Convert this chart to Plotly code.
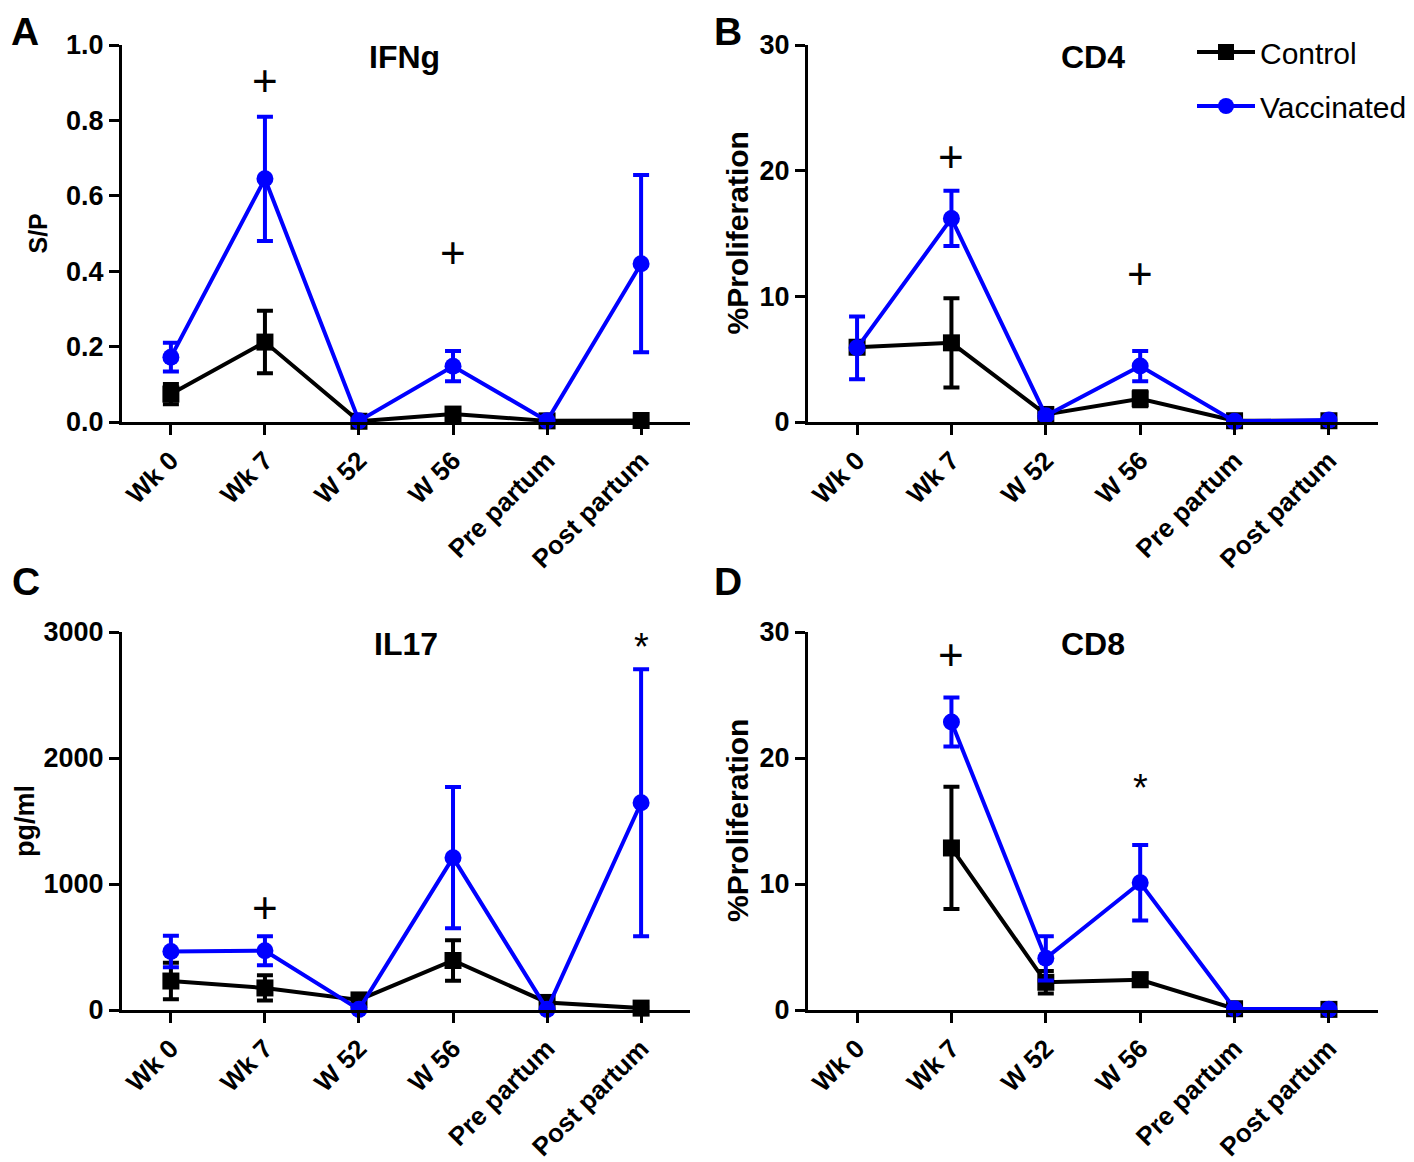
import plotly.graph_objects as go

W, H = 1414, 1162
OX, OY = 8, 8  # page body margin offset

categories = ["Wk 0", "Wk 7", "W 52", "W 56", "Pre partum", "Post partum"]

# Panel A: IFNg (S/P)
ifng_ctrl = [0.074, 0.212, 0.002, 0.021, 0.003, 0.004]
ifng_ctrl_err = [0.027, 0.083, 0.0, 0.005, 0.0, 0.0]
ifng_vacc = [0.172, 0.645, 0.003, 0.148, 0.003, 0.42]
ifng_vacc_err = [0.038, 0.165, 0.0, 0.04, 0.0, 0.235]

# Panel B: CD4 (%Proliferation)
cd4_ctrl = [5.95, 6.3, 0.6, 1.85, 0.1, 0.1]
cd4_ctrl_err = [0.4, 3.55, 0.2, 0.6, 0.05, 0.05]
cd4_vacc = [5.9, 16.2, 0.5, 4.45, 0.05, 0.15]
cd4_vacc_err = [2.5, 2.2, 0.2, 1.2, 0.05, 0.05]

# Panel C: IL17 (pg/ml)
il17_ctrl = [230, 175, 80, 393, 60, 15]
il17_ctrl_err = [145, 100, 20, 160, 10, 5]
il17_vacc = [465, 470, 5, 1209, 5, 1645]
il17_vacc_err = [125, 115, 0, 560, 0, 1060]

# Panel D: CD8 (%Proliferation)
cd8_ctrl = [None, 12.86, 2.2, 2.4, 0.1, 0.05]
cd8_ctrl_err = [0, 4.85, 0.9, 0.5, 0.05, 0.0]
cd8_vacc = [None, 22.86, 4.1, 10.1, 0.1, 0.05]
cd8_vacc_err = [0, 1.95, 1.75, 3.0, 0.05, 0.0]

# significance marks: (x index, y value, symbol)
marks_A = [(1, 0.905, "+"), (3, 0.45, "+")]
marks_B = [(1, 21.1, "+"), (3, 11.85, "+")]
marks_C = [(1, 817, "+"), (5, 2880, "*")]
marks_D = [(1, 28.2, "+"), (3, 17.6, "*")]

BLACK = "#000000"
BLUE = "#0000ff"
FONT = "Liberation Sans"


def px(x):
    return (x - OX) / W


def py(y):
    return 1 - (y - OY) / H


fig = go.Figure()

panels = [
    dict(ctrl=ifng_ctrl, ce=ifng_ctrl_err, vacc=ifng_vacc, ve=ifng_vacc_err,
         xs=(122, 690), ys=(45, 422), yr=[0, 1.0], dt=0.2, fmt=".1f",
         title="IFNg", tx=405, ytitle="S/P", ytx=37, yts=25,
         letter="A", lx=25, ly=8, lanchor="top", marks=marks_A),
    dict(ctrl=cd4_ctrl, ce=cd4_ctrl_err, vacc=cd4_vacc, ve=cd4_vacc_err,
         xs=(808, 1378), ys=(45, 422), yr=[0, 30], dt=10, fmt="d",
         title="CD4", tx=1093, ytitle="%Proliferation", ytx=737, yts=30,
         letter="B", lx=728, ly=8, lanchor="top", marks=marks_B),
    dict(ctrl=il17_ctrl, ce=il17_ctrl_err, vacc=il17_vacc, ve=il17_vacc_err,
         xs=(122, 690), ys=(632, 1010), yr=[0, 3000], dt=1000, fmt="d",
         title="IL17", tx=406, ytitle="pg/ml", ytx=25, yts=27,
         letter="C", lx=26, ly=581, lanchor="middle", marks=marks_C),
    dict(ctrl=cd8_ctrl, ce=cd8_ctrl_err, vacc=cd8_vacc, ve=cd8_vacc_err,
         xs=(808, 1378), ys=(632, 1010), yr=[0, 30], dt=10, fmt="d",
         title="CD8", tx=1093, ytitle="%Proliferation", ytx=737, yts=30,
         letter="D", lx=728, ly=581, lanchor="middle", marks=marks_D),
]

xvals = list(range(len(categories)))
annotations = []

for i, p in enumerate(panels):
    n = "" if i == 0 else str(i + 1)
    xa, ya = "x" + n, "y" + n
    for name, y, e, col, sym in [("Control", p["ctrl"], p["ce"], BLACK, "square"),
                                 ("Vaccinated", p["vacc"], p["ve"], BLUE, "circle")]:
        fig.add_trace(go.Scatter(
            x=xvals, y=y, mode="lines+markers", name=name, legendgroup=name,
            xaxis=xa, yaxis=ya, showlegend=(i == 1),
            line=dict(color=col, width=4),
            marker=dict(symbol=sym, size=17, color=col),
            error_y=dict(type="data", array=e, color=col, thickness=4, width=8, visible=True),
            cliponaxis=False, connectgaps=False,
        ))
    x0, x1 = p["xs"]
    y0, y1 = p["ys"]
    axis_common = dict(showline=True, linecolor=BLACK, linewidth=3, ticks="outside",
                       ticklen=10, tickwidth=3, tickcolor=BLACK, showgrid=False, zeroline=False,
                       automargin=False)
    fig.layout["xaxis" + n] = dict(
        domain=[px(x0), px(x1)], anchor=ya, range=[-0.52, 5.52],
        tickmode="array", tickvals=xvals, ticktext=categories, tickangle=-45,
        tickfont=dict(family=FONT, size=26, color=BLACK, weight="bold"), **axis_common)
    fig.layout["yaxis" + n] = dict(
        domain=[py(y1), py(y0)], anchor=xa, range=p["yr"], dtick=p["dt"], tickformat=p["fmt"],
        tickfont=dict(family=FONT, size=27, color=BLACK, weight="bold"), **axis_common)
    # title
    annotations.append(dict(text="<b>" + p["title"] + "</b>", x=px(p["tx"]), y=py(y0 + 12),
                            xref="paper", yref="paper", showarrow=False,
                            xanchor="center", yanchor="middle",
                            font=dict(family=FONT, size=32, color=BLACK)))
    # y title
    annotations.append(dict(text="<b>" + p["ytitle"] + "</b>", x=px(p["ytx"]), y=py((y0 + y1) / 2),
                            xref="paper", yref="paper", showarrow=False, textangle=-90,
                            xanchor="center", yanchor="middle",
                            font=dict(family=FONT, size=p["yts"], color=BLACK)))
    # panel letter
    annotations.append(dict(text="<b>" + p["letter"] + "</b>", x=px(p["lx"]), y=py(p["ly"]),
                            xref="paper", yref="paper", showarrow=False,
                            xanchor="center", yanchor=p["lanchor"],
                            font=dict(family=FONT, size=39, color=BLACK)))
    for (xi, yv, s) in p["marks"]:
        annotations.append(dict(text=s, x=xi, y=yv, xref=xa, yref=ya, showarrow=False,
                                xanchor="center", yanchor="middle",
                                font=dict(family=FONT, size=44 if s == "+" else 38, color=BLACK)))

fig.update_layout(
    width=W, height=H, margin=dict(l=0, r=0, t=0, b=0),
    plot_bgcolor="white", paper_bgcolor="white",
    annotations=annotations,
    legend=dict(x=px(1192), y=py(26), xanchor="left", yanchor="top",
                font=dict(family=FONT, size=30, color=BLACK), bgcolor="rgba(0,0,0,0)",
                tracegroupgap=12, itemwidth=58),
)

fig.write_html("out.html")
